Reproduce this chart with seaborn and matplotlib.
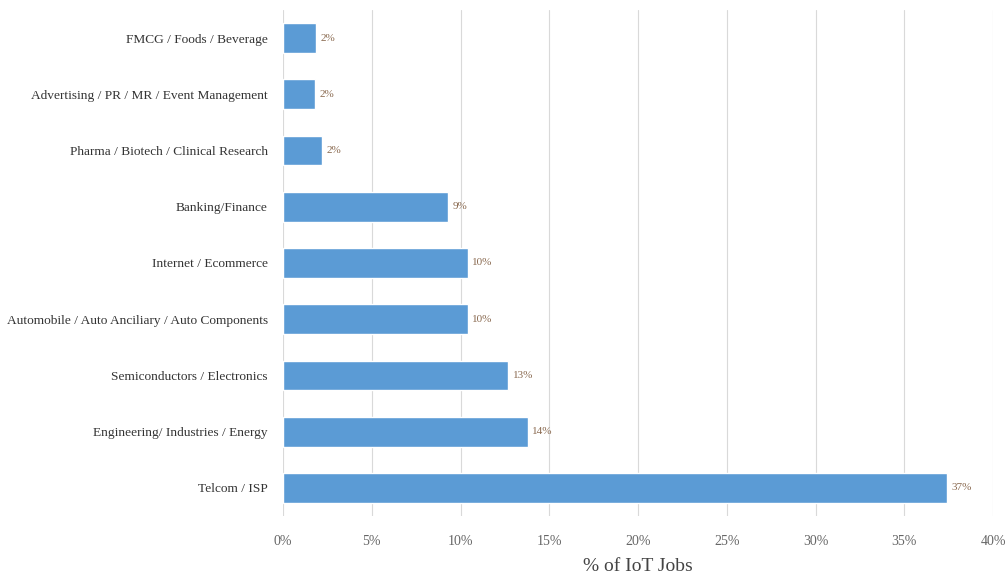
import matplotlib
matplotlib.use("Agg")
import matplotlib.pyplot as plt
import seaborn as sns
import pandas as pd
from matplotlib.ticker import PercentFormatter

categories = [
    "FMCG / Foods / Beverage",
    "Advertising / PR / MR / Event Management",
    "Pharma / Biotech / Clinical Research",
    "Banking/Finance",
    "Internet / Ecommerce",
    "Automobile / Auto Anciliary / Auto Components",
    "Semiconductors / Electronics",
    "Engineering/ Industries / Energy",
    "Telcom / ISP",
]
values = [1.85, 1.8, 2.2, 9.3, 10.4, 10.4, 12.7, 13.8, 37.4]
labels = ["2%", "2%", "2%", "9%", "10%", "10%", "13%", "14%", "37%"]
xticks = [0, 5, 10, 15, 20, 25, 30, 35, 40]

sns.set_theme(style="white")
plt.rcParams["font.family"] = ["Liberation Serif", "DejaVu Serif"]

df = pd.DataFrame({"cat": categories, "val": values})

fig = plt.figure(figsize=(10.08, 5.78), dpi=100)
ax = fig.add_axes([0.2808, 0.1073, 0.7044, 0.8754])
sns.barplot(data=df, x="val", y="cat", orient="h", color="#5B9BD5",
            saturation=1, width=0.53, ax=ax)

ax.set_xlim(0, 40)
ax.set_xticks(xticks)
ax.xaxis.set_major_formatter(PercentFormatter(decimals=0))
ax.grid(axis="x", color="#d9d9d9", linewidth=0.8)
ax.set_axisbelow(True)
for s in ax.spines.values():
    s.set_visible(False)

for i, (v, lab) in enumerate(zip(values, labels)):
    ax.text(v + 0.25, i, lab, va="center", ha="left", fontsize=8, color="#8a6a50")

ax.tick_params(axis="y", labelsize=9.6, colors="#333333", length=0, pad=11)
ax.tick_params(axis="x", labelsize=10, colors="#666666", length=0, pad=14)
ax.set_ylabel("")
ax.set_xlabel("% of IoT Jobs", fontsize=14, color="#444444", labelpad=7)

fig.savefig("out.png", dpi=100)
